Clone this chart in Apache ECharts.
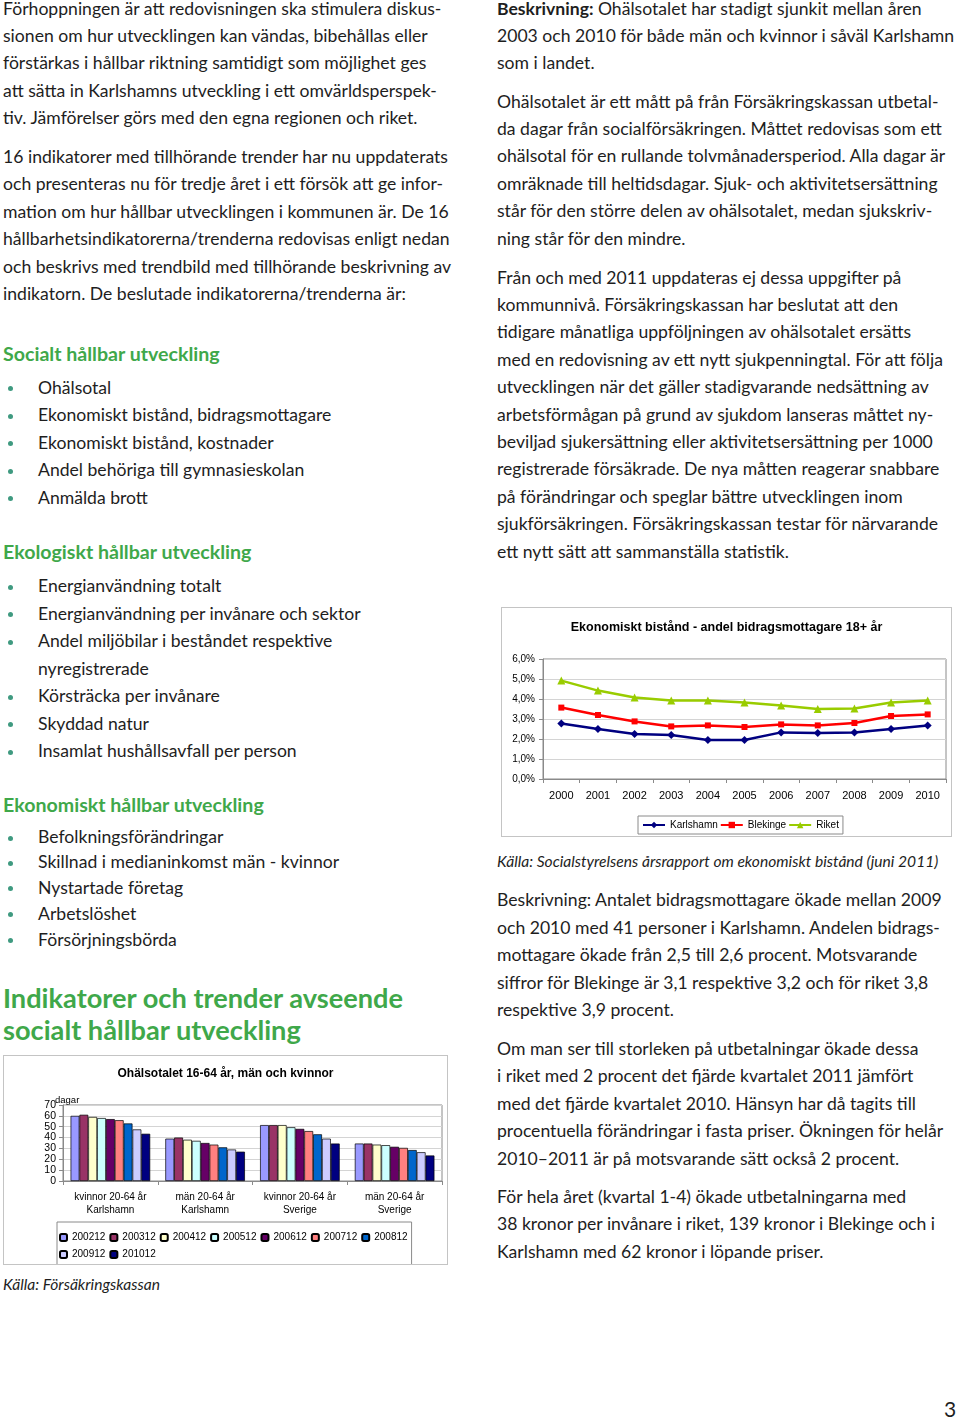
<!DOCTYPE html>
<html><head><meta charset="utf-8">
<script src="https://cdn.jsdelivr.net/npm/echarts@6/dist/echarts.min.js"></script>
<style>
html,body{margin:0;padding:0;background:#fff;}
body{width:960px;height:1419px;position:relative;overflow:hidden;font-family:Lato,sans-serif;color:#1e1e1e;}
.ln{position:absolute;white-space:nowrap;}
.g{color:#3fa84a;}
.dot{position:absolute;width:5px;height:5px;border-radius:50%;background:#3f9a80;}
#lineChart{position:absolute;left:501px;top:607px;width:449px;height:228px;border:1px solid #c4c4c4;}
#barChart{position:absolute;left:3px;top:1055px;width:443px;height:208px;border:1px solid #c4c4c4;}
</style></head>
<body>
<div id="lineChart"></div>
<div id="barChart"></div>
<script>
// ---------- chart data ----------
const years = ['2000','2001','2002','2003','2004','2005','2006','2007','2008','2009','2010'];
const karlshamn = [2.77,2.50,2.25,2.20,1.95,1.95,2.33,2.30,2.33,2.50,2.67];
const blekinge  = [3.57,3.20,2.88,2.63,2.68,2.60,2.73,2.68,2.80,3.15,3.23];
const riket     = [4.92,4.42,4.08,3.92,3.92,3.83,3.67,3.50,3.53,3.83,3.92];

const groups = ['kvinnor 20-64 år\nKarlshamn','män 20-64 år\nKarlshamn','kvinnor 20-64 år\nSverige','män 20-64 år\nSverige'];
const periods = ['200212','200312','200412','200512','200612','200712','200812','200912','201012'];
const v200212 = [60,39,51.5,34.5];
const v200312 = [61,40,51.5,34.5];
const v200412 = [59,38,51.5,33.5];
const v200512 = [58,37,49.5,33];
const v200612 = [57,35,48,31.5];
const v200712 = [56,33.5,46,30.5];
const v200812 = [53,31,43,28.5];
const v200912 = [47.5,29,39,26.5];
const v201012 = [43.5,27,34.5,23.5];
const barValues = [v200212,v200312,v200412,v200512,v200612,v200712,v200812,v200912,v201012];
const barColors = ['#9999FF','#993366','#FFFFCC','#CCFFFF','#660066','#FF8080','#0066CC','#CCCCFF','#000080'];

// ---------- page text ----------
const BODY = 17.6;
function line(x, base, html, o){
  o = o || {};
  const s = o.size || BODY;
  const lh = (o.lh || 1.2) * s;
  const d = document.createElement('div');
  d.className = 'ln' + (o.cls ? ' ' + o.cls : '');
  d.style.left = x + 'px';
  d.style.fontSize = s + 'px';
  d.style.lineHeight = lh + 'px';
  d.style.top = (base - (lh - 1.2*s)/2 - 0.987*s) + 'px';
  if (o.weight) d.style.fontWeight = o.weight;
  if (o.italic) d.style.fontStyle = 'italic';
  if (o.ls) d.style.letterSpacing = o.ls + 'px';
  d.innerHTML = html;
  document.body.appendChild(d);
}
function para(x, base, step, lines, o){ lines.forEach((t,i)=>line(x, base + i*step, t, o)); }
function bullets(base, steps, items){
  let b = base;
  items.forEach((t,i)=>{
    if (t[0] !== '~') {
      const d = document.createElement('div'); d.className='dot';
      d.style.left='7.5px'; d.style.top=(b-8)+'px'; document.body.appendChild(d);
      line(38, b, t);
    } else line(38, b, t.slice(1));
    b += steps[i] || 0;
  });
}

para(3, 15, 27.4, [
 'Förhoppningen är att redovisningen ska stimulera diskus-',
 'sionen om hur utvecklingen kan vändas, bibehållas eller',
 'förstärkas i hållbar riktning samtidigt som möjlighet ges',
 'att sätta in Karlshamns utveckling i ett omvärldsperspek-',
 'tiv. Jämförelser görs med den egna regionen och riket.']);
para(3, 163.3, 27.4, [
 '16 indikatorer med tillhörande trender har nu uppdaterats',
 'och presenteras nu för tredje året i ett försök att ge infor-',
 'mation om hur hållbar utvecklingen i kommunen är. De 16',
 'hållbarhetsindikatorerna/trenderna redovisas enligt nedan',
 'och beskrivs med trendbild med tillhörande beskrivning av',
 'indikatorn. De beslutade indikatorerna/trenderna är:']);

line(3, 361, 'Socialt hållbar utveckling', {cls:'g', size:19.6, weight:'bold'});
bullets(394, [27.5,27.5,27.5,27.5], ['Ohälsotal','Ekonomiskt bistånd, bidragsmottagare','Ekonomiskt bistånd, kostnader','Andel behöriga till gymnasieskolan','Anmälda brott']);
line(3, 559, 'Ekologiskt hållbar utveckling', {cls:'g', size:19.6, weight:'bold'});
bullets(592.5, [27.5,27.5,27.5,27.5,27.5,27.5], ['Energianvändning totalt','Energianvändning per invånare och sektor','Andel miljöbilar i beståndet respektive','~nyregistrerade','Körsträcka per invånare','Skyddad natur','Insamlat hushållsavfall per person']);
line(3, 812, 'Ekonomiskt hållbar utveckling', {cls:'g', size:19.6, weight:'bold'});
bullets(843.5, [25.3,25.3,25.8,26.5], ['Befolkningsförändringar','Skillnad i medianinkomst män - kvinnor','Nystartade företag','Arbetslöshet','Försörjningsbörda']);

line(3, 1008, 'Indikatorer och trender avseende', {cls:'g', size:27.2, weight:'bold', lh:1.0});
line(3, 1040, 'socialt hållbar utveckling', {cls:'g', size:27.2, weight:'bold', lh:1.0});

line(3, 1290.5, 'Källa: Försäkringskassan', {size:15.6, italic:true});

// right column
para(497, 15, 27.4, [
 '<b>Beskrivning:</b> Ohälsotalet har stadigt sjunkit mellan åren',
 '2003 och 2010 för både män och kvinnor i såväl Karlshamn',
 'som i landet.']);
para(497, 108, 27.4, [
 'Ohälsotalet är ett mått på från Försäkringskassan utbetal-',
 'da dagar från socialförsäkringen. Måttet redovisas som ett',
 'ohälsotal för en rullande tolvmånadersperiod. Alla dagar är',
 'omräknade till heltidsdagar. Sjuk- och aktivitetsersättning',
 'står för den större delen av ohälsotalet, medan sjukskriv-',
 'ning står för den mindre.']);
para(497, 284, 27.4, [
 'Från och med 2011 uppdateras ej dessa uppgifter på',
 'kommunnivå. Försäkringskassan har beslutat att den',
 'tidigare månatliga uppföljningen av ohälsotalet ersätts',
 'med en redovisning av ett nytt sjukpenningtal. För att följa',
 'utvecklingen när det gäller stadigvarande nedsättning av',
 'arbetsförmågan på grund av sjukdom lanseras måttet ny-',
 'beviljad sjukersättning eller aktivitetsersättning per 1000',
 'registrerade försäkrade. De nya måtten reagerar snabbare',
 'på förändringar och speglar bättre utvecklingen inom',
 'sjukförsäkringen. Försäkringskassan testar för närvarande',
 'ett nytt sätt att sammanställa statistik.']);
line(497, 867.5, 'Källa: Socialstyrelsens årsrapport om ekonomiskt bistånd (juni 2011)', {size:15.6, italic:true});
para(497, 906.7, 27.5, [
 'Beskrivning: Antalet bidragsmottagare ökade mellan 2009',
 'och 2010 med 41 personer i Karlshamn. Andelen bidrags-',
 'mottagare ökade från 2,5 till 2,6 procent. Motsvarande',
 'siffror för Blekinge är 3,1 respektive 3,2 och för riket 3,8',
 'respektive 3,9 procent.']);
para(497, 1055, 27.5, [
 'Om man ser till storleken på utbetalningar ökade dessa',
 'i riket med 2 procent det fjärde kvartalet 2011 jämfört',
 'med det fjärde kvartalet 2010. Hänsyn har då tagits till',
 'procentuella förändringar i fasta priser. Ökningen för helår',
 '2010–2011 är på motsvarande sätt också 2 procent.']);
para(497, 1203.3, 27.5, [
 'För hela året (kvartal 1-4) ökade utbetalningarna med',
 '38 kronor per invånare i riket, 139 kronor i Blekinge och i',
 'Karlshamn med 62 kronor i löpande priser.']);
line(944, 1417, '3', {size:21});

// ---------- line chart ----------
const FONT = 'Liberation Sans, Arial, sans-serif';
const lc = echarts.init(document.getElementById('lineChart'));
lc.setOption({
  animation:false,
  textStyle:{fontFamily:FONT, color:'#000'},
  title:{text:'Ekonomiskt bistånd - andel bidragsmottagare 18+ år', left:'center', top:8,
         textStyle:{fontFamily:FONT, fontSize:12.5, fontWeight:'bold', color:'#000'}},
  grid:{left:41, right:5, top:51, bottom:57, show:true, borderColor:'#8a8a8a', borderWidth:1},
  xAxis:{type:'category', data:years, boundaryGap:true,
         axisLine:{lineStyle:{color:'#8a8a8a'}},
         axisTick:{show:true, length:4, lineStyle:{color:'#8a8a8a'}},
         axisLabel:{fontSize:11, color:'#000', margin:11, fontFamily:FONT}},
  yAxis:{type:'value', min:0, max:6, interval:1,
         axisLine:{show:true, lineStyle:{color:'#8a8a8a'}},
         axisTick:{show:true, length:4, lineStyle:{color:'#8a8a8a'}},
         splitLine:{lineStyle:{color:'#d4d4d4'}},
         axisLabel:{fontSize:10, color:'#000', margin:8, fontFamily:FONT,
                    formatter:v=>v.toFixed(1).replace('.',',')+'%'}},
  legend:{left:136, top:208, padding:[4,4,4,4], itemGap:2, itemWidth:22, itemHeight:8,
          borderColor:'#8a8a8a', borderWidth:1,
          textStyle:{fontSize:10, color:'#000', fontFamily:FONT}},
  series:[
    {name:'Karlshamn', type:'line', data:karlshamn, symbol:'diamond', symbolSize:8,
     lineStyle:{width:2.5, color:'#000080'}, itemStyle:{color:'#000080'}},
    {name:'Blekinge', type:'line', data:blekinge, symbol:'rect', symbolSize:6,
     lineStyle:{width:2.5, color:'#FF0000'}, itemStyle:{color:'#FF0000'}},
    {name:'Riket', type:'line', data:riket, symbol:'triangle', symbolSize:8,
     lineStyle:{width:2.5, color:'#99CC00'}, itemStyle:{color:'#99CC00'}}
  ]
});

// ---------- bar chart ----------
const bc = echarts.init(document.getElementById('barChart'));
bc.setOption({
  animation:false,
  textStyle:{fontFamily:FONT, color:'#000'},
  title:{text:'Ohälsotalet 16-64 år, män och kvinnor', left:'center', top:7,
         textStyle:{fontFamily:FONT, fontSize:12, fontWeight:'bold', color:'#000'}},
  graphic:[{type:'text', left:51, top:39, silent:true,
            style:{text:'dagar', fontSize:9.5, fontFamily:FONT, fill:'#000'}}],
  grid:{left:59, right:5, top:49, bottom:83, show:true, borderColor:'#8a8a8a', borderWidth:1},
  xAxis:{type:'category', data:groups, boundaryGap:true,
         axisLine:{lineStyle:{color:'#8a8a8a'}},
         axisTick:{show:true, length:4, lineStyle:{color:'#8a8a8a'}},
         axisLabel:{fontSize:10, lineHeight:13, color:'#000', margin:10, fontFamily:FONT}},
  yAxis:{type:'value', min:0, max:70, interval:10,
         axisLine:{show:true, lineStyle:{color:'#8a8a8a'}},
         axisTick:{show:true, length:4, lineStyle:{color:'#8a8a8a'}},
         splitLine:{lineStyle:{color:'#d4d4d4'}},
         axisLabel:{fontSize:10.5, color:'#000', margin:7, fontFamily:FONT}},
  legend:{left:53, top:166, width:350, padding:[9,4,4,2], itemGap:4, itemWidth:7, itemHeight:7,
          borderColor:'#8a8a8a', borderWidth:1,
          textStyle:{fontSize:10, lineHeight:13, color:'#000', fontFamily:FONT}},
  series: periods.map((p,i)=>({
    name:p, type:'bar', data:barValues[i], barGap:'0%', barCategoryGap:'16%',
    itemStyle:{color:barColors[i], borderColor:'#000', borderWidth:0.7}
  }))
});
</script>
</body></html>
